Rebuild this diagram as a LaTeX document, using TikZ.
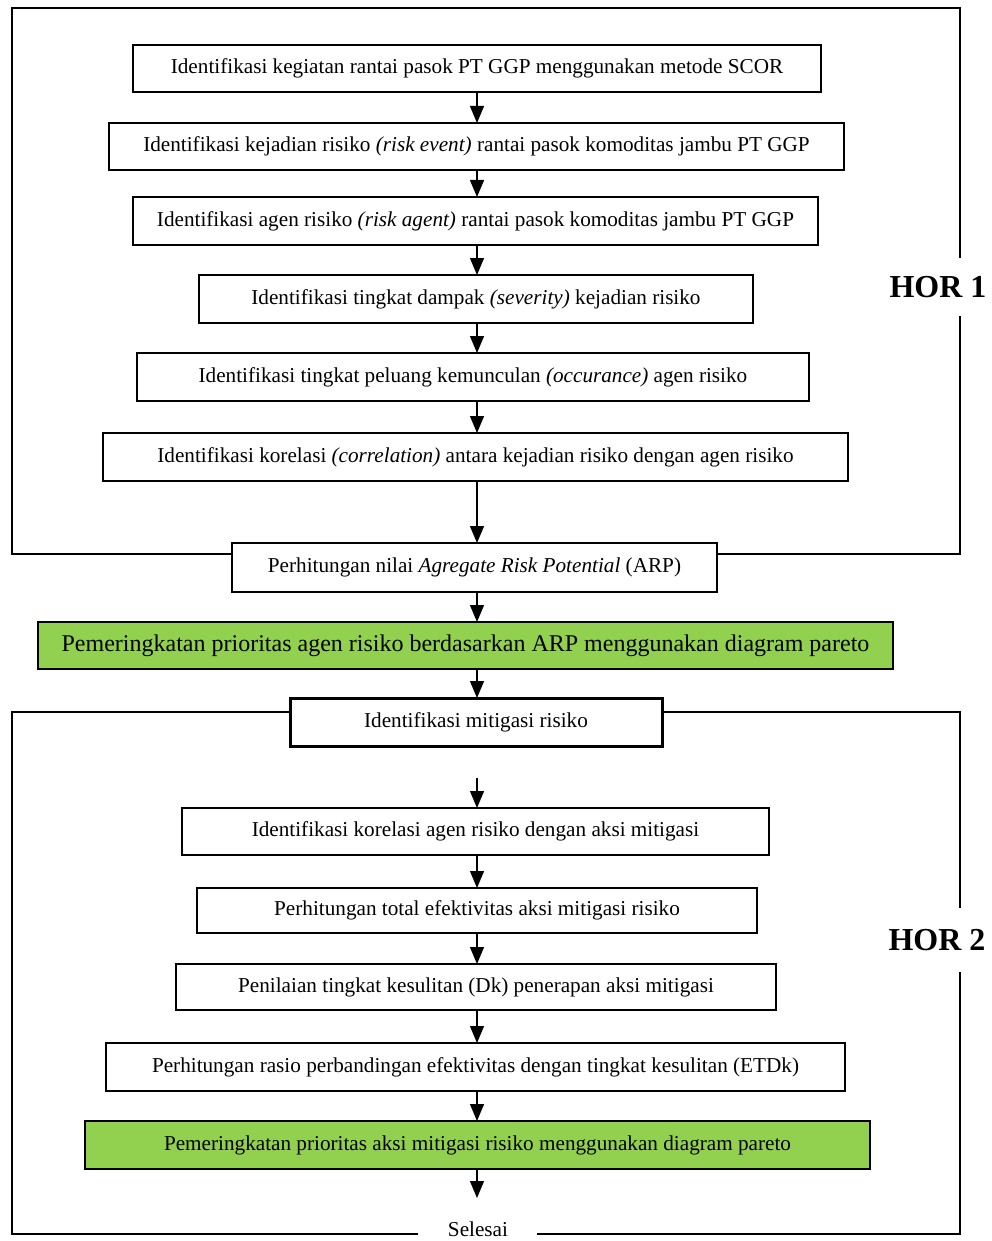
\documentclass[tikz,border=0pt]{standalone}
\usepackage{fontspec}
\setmainfont{Liberation Serif}
\usetikzlibrary{arrows.meta}
\definecolor{boxgreen}{HTML}{92D050}
\tikzset{
  stepbox/.style={draw=black, line width=1.3pt, rectangle, inner sep=0pt, outer sep=0pt, fill=white,
    font=\fontsize{21.2}{25}\selectfont},
  greenbox/.style={stepbox, fill=boxgreen},
  thickbox/.style={stepbox, line width=3pt},
  frame/.style={draw=black, line width=2.4pt},
  arr/.style={draw=black, line width=1.3pt, -{Triangle[length=17pt,width=14pt]}},
  horlabel/.style={font=\fontsize{32}{36}\selectfont\bfseries, inner sep=0pt},
}
\begin{document}
\begin{tikzpicture}[x=1pt,y=-1pt]
\useasboundingbox (0,0) rectangle (992,1241);
\coordinate (ax) at (477,0);

% HOR 1 steps
\node[stepbox, minimum width=688pt, minimum height=47pt] (b1) at (477,68.5) {Identifikasi kegiatan rantai pasok PT GGP menggunakan metode SCOR};
\node[stepbox, minimum width=735pt, minimum height=47pt] (b2) at (476.5,146.5) {Identifikasi kejadian risiko \textit{(risk event)} rantai pasok komoditas jambu PT GGP};
\node[stepbox, minimum width=685pt, minimum height=48pt] (b3) at (475.5,221) {Identifikasi agen risiko \textit{(risk agent)} rantai pasok komoditas jambu PT GGP};
\node[stepbox, minimum width=554pt, minimum height=48pt] (b4) at (476,299) {Identifikasi tingkat dampak \textit{(severity)} kejadian risiko};
\node[stepbox, minimum width=672pt, minimum height=48pt] (b5) at (473,377) {Identifikasi tingkat peluang kemunculan \textit{(occurance)} agen risiko};
\node[stepbox, minimum width=745pt, minimum height=48pt] (b6) at (475.5,457) {Identifikasi korelasi \textit{(correlation)} antara kejadian risiko dengan agen risiko};
\node[stepbox, minimum width=485pt, minimum height=49pt] (arp) at (474.5,567.5) {Perhitungan nilai \textit{Agregate Risk Potential} (ARP)};
\node[greenbox, minimum width=855pt, minimum height=47pt, font=\fontsize{24}{28}\selectfont] (g1) at (465.5,645.5) {Pemeringkatan prioritas agen risiko berdasarkan ARP menggunakan diagram pareto};
\node[thickbox, minimum width=372pt, minimum height=48pt] (mit) at (476,722) {Identifikasi mitigasi risiko};

% HOR 2 steps
\node[stepbox, minimum width=587pt, minimum height=47pt] (b7) at (475.5,831.5) {Identifikasi korelasi agen risiko dengan aksi mitigasi};
\node[stepbox, minimum width=560pt, minimum height=45pt] (b8) at (477,910.5) {Perhitungan total efektivitas aksi mitigasi risiko};
\node[stepbox, minimum width=600pt, minimum height=46pt] (b9) at (476,987) {Penilaian tingkat kesulitan (Dk) penerapan aksi mitigasi};
\node[stepbox, minimum width=739pt, minimum height=48pt] (b10) at (475.5,1067) {Perhitungan rasio perbandingan efektivitas dengan tingkat kesulitan (ETDk)};
\node[greenbox, minimum width=785pt, minimum height=48pt] (g2) at (477.5,1145) {Pemeringkatan prioritas aksi mitigasi risiko menggunakan diagram pareto};

% labels
\node[horlabel] (hor1) at (938,287) {HOR 1};
\node[horlabel] (hor2) at (937,940) {HOR 2};
\node[font=\fontsize{21.2}{25}\selectfont, inner sep=0pt] (sel) at (478,1229) {Selesai};

% frame coordinates
\coordinate (f1tl) at (12,8);
\coordinate (f1tr) at (960,8);
\coordinate (f1bl) at (12,554);
\coordinate (f1br) at (960,554);
\coordinate (h1a) at (960,258);
\coordinate (h1b) at (960,316);
\coordinate (f2tl) at (12,712);
\coordinate (f2tr) at (960,712);
\coordinate (f2bl) at (12,1234);
\coordinate (f2br) at (960,1234);
\coordinate (h2a) at (960,908);
\coordinate (h2b) at (960,972);
\coordinate (s1) at (418,1234);
\coordinate (s2) at (537,1234);
\coordinate (m0) at (477,778);
\coordinate (endp) at (477,1198);

% frames
\draw[frame] (arp.west |- f1bl) -- (f1bl) -- (f1tl) -- (f1tr) -- (h1a);
\draw[frame] (h1b) -- (f1br) -- (arp.east |- f1br);
\draw[frame] (mit.west |- f2tl) -- (f2tl) -- (f2bl) -- (s1);
\draw[frame] (s2) -- (f2br) -- (h2b);
\draw[frame] (h2a) -- (f2tr) -- (mit.east |- f2tr);
\node[thickbox, minimum width=372pt, minimum height=48pt] at (mit) {Identifikasi mitigasi risiko};

% arrows
\draw[arr] (b1.south -| ax) -- (b2.north -| ax);
\draw[arr] (b2.south -| ax) -- (b3.north -| ax);
\draw[arr] (b3.south -| ax) -- (b4.north -| ax);
\draw[arr] (b4.south -| ax) -- (b5.north -| ax);
\draw[arr] (b5.south -| ax) -- (b6.north -| ax);
\draw[arr] (b6.south -| ax) -- (arp.north -| ax);
\draw[arr] (arp.south -| ax) -- (g1.north -| ax);
\draw[arr] (g1.south -| ax) -- (mit.north -| ax);
\draw[arr] (m0) -- (b7.north -| ax);
\draw[arr] (b7.south -| ax) -- (b8.north -| ax);
\draw[arr] (b8.south -| ax) -- (b9.north -| ax);
\draw[arr] (b9.south -| ax) -- (b10.north -| ax);
\draw[arr] (b10.south -| ax) -- (g2.north -| ax);
\draw[arr] (g2.south -| ax) -- (endp);
\end{tikzpicture}
\end{document}
